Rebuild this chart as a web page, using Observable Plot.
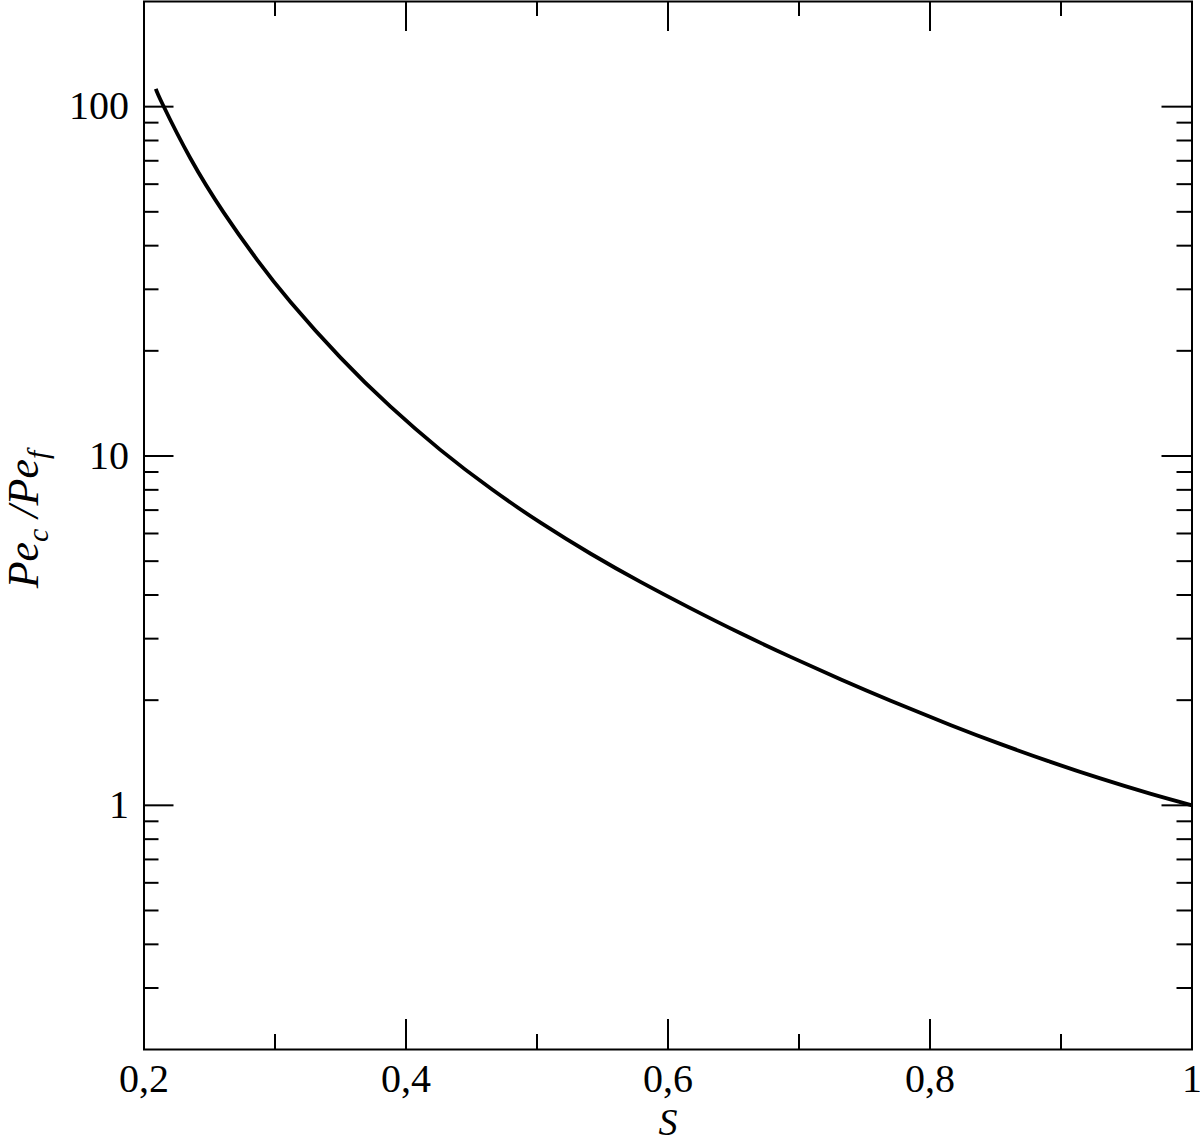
<!DOCTYPE html>
<html><head><meta charset="utf-8">
<script src="https://cdn.jsdelivr.net/npm/d3@7"></script>
<script src="https://cdn.jsdelivr.net/npm/@observablehq/plot@0.6"></script>
<style>body{margin:0;background:#fff}</style>
</head><body><div id="chart"></div>
<script>
// Data
const S = [0.209, 0.2145, 0.2355, 0.261, 0.2865, 0.312, 0.35, 0.388, 0.426, 0.465, 0.503, 0.541, 0.579, 0.617, 0.655, 0.694, 0.732, 0.77, 0.816, 0.854, 0.892, 0.93, 0.968, 1.0];
const ratio = [112.5, 101.1, 71.05, 49.66, 36.38, 27.56, 19.12, 13.86, 10.43, 8.054, 6.432, 5.25, 4.36, 3.669, 3.113, 2.656, 2.291, 1.992, 1.696, 1.497, 1.332, 1.194, 1.080, 1.0];
const xMajor = [0.2, 0.4, 0.6, 0.8, 1];
const xMinor = [0.3, 0.5, 0.7, 0.9];
const xTickLabels = ["0,2", "0,4", "0,6", "0,8", "1"];
const yMajor = [1, 10, 100];
const yTickLabels = ["1", "10", "100"];
const yMinor = [0.3, 0.4, 0.5, 0.6, 0.7, 0.8, 0.9, 2, 3, 4, 5, 6, 7, 8, 9, 20, 30, 40, 50, 60, 70, 80, 90];
const xLabel = "S";
const yLabel = "Pe_c /Pe_f";

const W = 1200, H = 1143;
const mL = 143.5, mR = 8.5, mT = 1, mB = 94;
const iw = W - mL - mR, ih = H - mT - mB;
const majorLen = 30, minorLen = 15;
const data = S.map((s, i) => ({s, r: ratio[i]}));
const font = "'Liberation Serif', 'Times New Roman', Times, serif";

const plot = Plot.plot({
  width: W, height: H,
  marginLeft: mL, marginRight: mR, marginTop: mT, marginBottom: mB,
  style: {fontFamily: font, fontSize: "40px", background: "#fff", color: "#000", overflow: "visible"},
  x: {domain: [0.2, 1], ticks: xMajor, tickFormat: d => xTickLabels[xMajor.indexOf(d)], tickSize: 0, tickPadding: 14, label: null},
  y: {type: "log", domain: [0.2, 200], ticks: yMajor, tickFormat: d => yTickLabels[yMajor.indexOf(d)], tickSize: 0, tickPadding: 15, label: null},
  marks: [
    Plot.ruleY(yMajor, {y: d => d, insetRight: iw - majorLen, stroke: "#000", strokeWidth: 2}),
    Plot.ruleY(yMajor, {y: d => d, insetLeft: iw - majorLen, stroke: "#000", strokeWidth: 2}),
    Plot.ruleY(yMinor, {y: d => d, insetRight: iw - minorLen, stroke: "#000", strokeWidth: 2}),
    Plot.ruleY(yMinor, {y: d => d, insetLeft: iw - minorLen, stroke: "#000", strokeWidth: 2}),
    Plot.ruleX(xMajor, {x: d => d, insetTop: ih - majorLen, stroke: "#000", strokeWidth: 2}),
    Plot.ruleX(xMajor, {x: d => d, insetBottom: ih - majorLen, stroke: "#000", strokeWidth: 2}),
    Plot.ruleX(xMinor, {x: d => d, insetTop: ih - minorLen, stroke: "#000", strokeWidth: 2}),
    Plot.ruleX(xMinor, {x: d => d, insetBottom: ih - minorLen, stroke: "#000", strokeWidth: 2}),
    Plot.line(data, {x: "s", y: "r", stroke: "#000", strokeWidth: 3.8, curve: "natural", strokeLinecap: "butt"}),
    Plot.frame({stroke: "#000", strokeWidth: 2}),
    Plot.text([xLabel], {text: d => d, frameAnchor: "bottom", lineAnchor: "middle", textAnchor: "middle", dy: 73, fontStyle: "italic", fontSize: 38, fill: "#000"}),
    Plot.text([yLabel], {text: d => d, frameAnchor: "left", lineAnchor: "middle", textAnchor: "middle", rotate: -90, dx: -120.5, dy: -6, fontStyle: "italic", fontSize: 44, fill: "#000"})
  ]
});
document.getElementById("chart").appendChild(plot);

// Render subscripts in the y label
d3.select(plot).selectAll("text").filter(function() { return this.textContent === yLabel; }).each(function() {
  const t = d3.select(this);
  const parts = yLabel.split(/(_[a-z])/).filter(p => p.length);
  t.text(null);
  let shifted = false;
  parts.forEach(p => {
    if (p.startsWith("_")) {
      t.append("tspan").attr("dy", 10).attr("font-size", "30px").text(p.slice(1));
      shifted = true;
    } else {
      const ts = t.append("tspan").text(p);
      if (shifted) { ts.attr("dy", -10); shifted = false; }
    }
  });
});
</script>
</body></html>
